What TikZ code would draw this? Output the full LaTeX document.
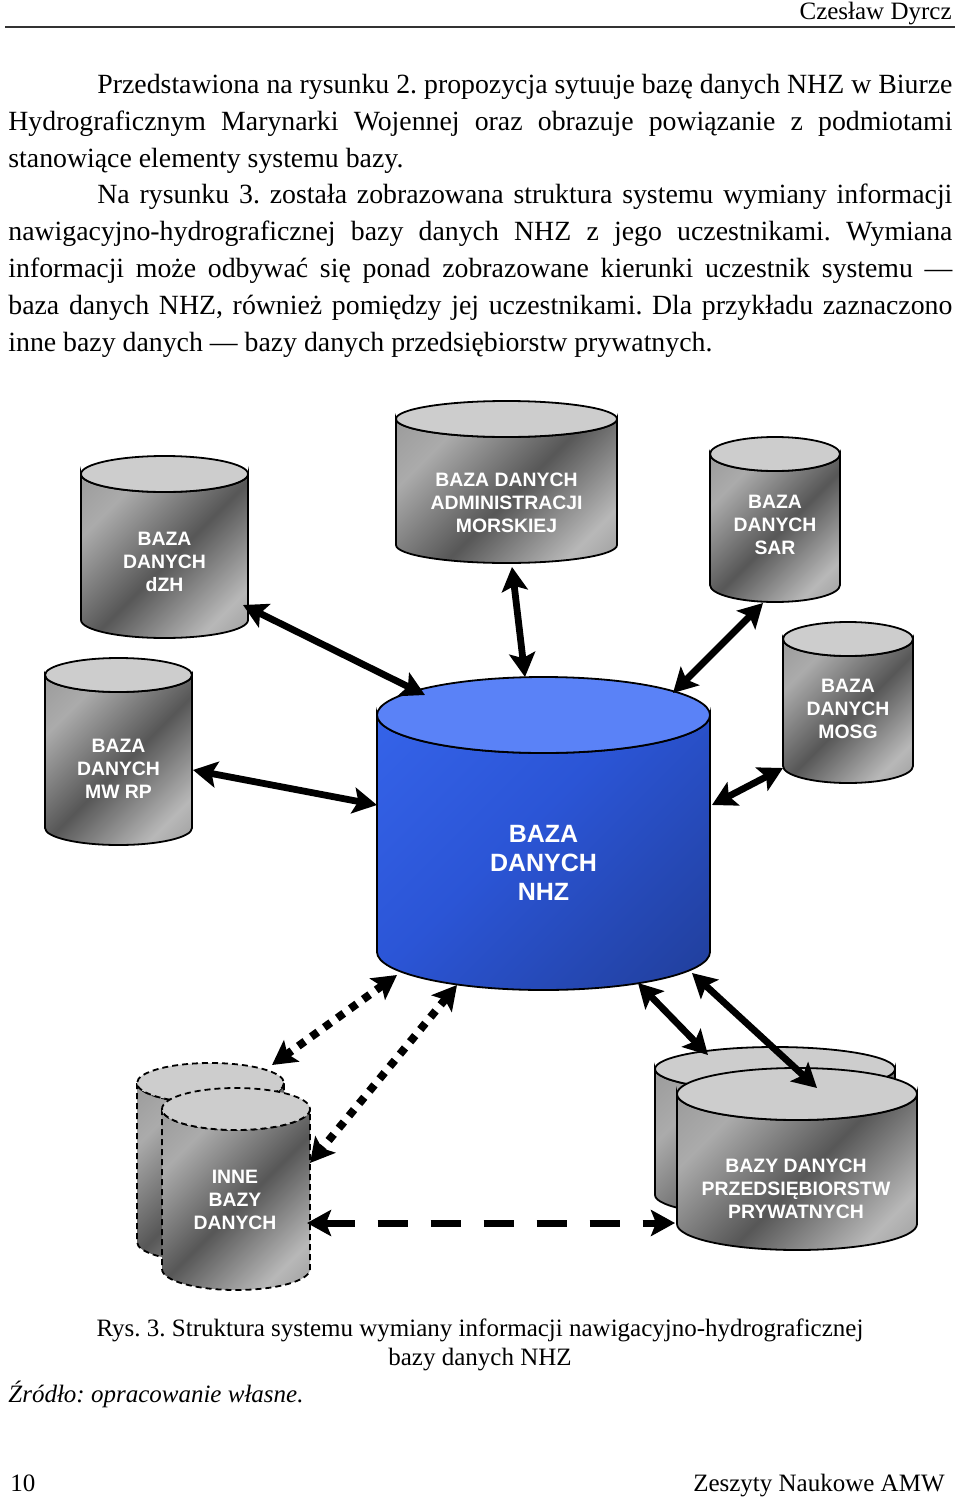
\documentclass[tikz,border=0pt]{standalone}
\usepackage{fontspec}
\setmainfont{Liberation Serif}
\newfontfamily\arialfont{Liberation Sans}
\usetikzlibrary{arrows.meta}
\frenchspacing
\definecolor{m1}{HTML}{8A8A8A}
\definecolor{m2}{HTML}{ABABAB}
\definecolor{m3}{HTML}{575757}
\definecolor{m4}{HTML}{B8B8B8}
\definecolor{m5}{HTML}{7A7A7A}
\definecolor{gtop}{HTML}{CDCDCD}
\definecolor{b1}{HTML}{3A6AF2}
\definecolor{b2}{HTML}{2B55D6}
\definecolor{b3}{HTML}{1D3684}
\definecolor{btop}{HTML}{5A82F7}
\pgfdeclarehorizontalshading{metal}{100bp}{color(0bp)=(m1); color(28bp)=(m2); color(52bp)=(m3); color(75bp)=(m4); color(100bp)=(m5)}
\pgfdeclarehorizontalshading{bluegrad}{100bp}{color(0bp)=(b1); color(45bp)=(b2); color(100bp)=(b3)}
% cylinder: #1 cx, #2 half width, #3 top centre y, #4 bottom centre y, #5 ry, #6 body style, #7 top style
\newcommand\mycyl[7]{%
  \path[#6] (#1-#2,#3) -- (#1-#2,#4) arc[start angle=180,end angle=0,x radius=#2,y radius=#5] -- (#1+#2,#3) arc[start angle=0,end angle=180,x radius=#2,y radius=#5] -- cycle;
  \path[#7] (#1,#3) ellipse [x radius=#2,y radius=#5];}
\begin{document}
\begin{tikzpicture}[x=0.5pt,y=-0.5pt,
  graybody/.style={draw=black,line width=0.9pt,shading=metal,shading angle=-45},
  graytop/.style={draw=black,line width=0.9pt,fill=gtop},
  dgraybody/.style={graybody,dash pattern=on 3pt off 2pt},
  dgraytop/.style={graytop,dash pattern=on 3pt off 2pt},
  bluebody/.style={draw=black,line width=0.9pt,shading=bluegrad,shading angle=-45},
  bluetop/.style={draw=black,line width=0.9pt,fill=btop},
  lab/.style={font=\arialfont\bfseries\fontsize{9.7}{11.6}\selectfont,text=white,align=center,inner sep=0},
  biglab/.style={font=\arialfont\bfseries\fontsize{12.5}{14.5}\selectfont,text=white,align=center,inner sep=0},
  bodytext/.style={font=\fontsize{13.9}{16}\selectfont,anchor=base west,inner sep=0},
  smalltext/.style={font=\fontsize{12.5}{14}\selectfont,inner sep=0},
  tip/.tip={Stealth[length=12pt,width=13pt,inset=2.5pt]},
  biarrow/.style={line width=3.4pt,tip-tip},
  dotarrow/.style={line width=4pt,dash pattern=on 4pt off 4pt,tip-tip},
  dasharrow/.style={line width=3.5pt,dash pattern=on 15pt off 11.5pt,tip-tip}]
\useasboundingbox (0,0) rectangle (960,1498);
\fill[white] (0,0) rectangle (960,1498);

% header
\node[smalltext,anchor=base east] (hdr) at (952,20) {Czesław Dyrcz};
\draw[line width=1pt,black!80] (5,27.5) -- (955,27.5);

% body text
\node[bodytext] (l1) at (97,93.5) {\makebox[427.5pt][s]{Przedstawiona na rysunku 2. propozycja sytuuje bazę danych NHZ w Biurze}};
\node[bodytext] (l2) at (8,130.3) {\makebox[472pt][s]{Hydrograficznym Marynarki Wojennej oraz obrazuje powiązanie z podmiotami}};
\node[bodytext] (l3) at (8,167.1) {stanowiące elementy systemu bazy.};
\node[bodytext] (l4) at (97,203.9) {\makebox[427.5pt][s]{Na rysunku 3. została zobrazowana struktura systemu wymiany informacji}};
\node[bodytext] (l5) at (8,240.7) {\makebox[472pt][s]{nawigacyjno-hydrograficznej bazy danych NHZ z jego uczestnikami. Wymiana}};
\node[bodytext] (l6) at (8,277.5) {\makebox[472pt][s]{informacji może odbywać się ponad zobrazowane kierunki uczestnik systemu —}};
\node[bodytext] (l7) at (8,314.3) {\makebox[472pt][s]{baza danych NHZ, również pomiędzy jej uczestnikami. Dla przykładu zaznaczono}};
\node[bodytext] (l8) at (8,351.1) {inne bazy danych — bazy danych przedsiębiorstw prywatnych.};

% cylinders
\mycyl{164.5}{83.5}{474}{620}{18}{graybody}{graytop}
\node[lab] (dzh) at (164.5,562) {BAZA\\DANYCH\\dZH};
\mycyl{506.5}{110.5}{419}{545}{18}{graybody}{graytop}
\node[lab] (adm) at (506.5,503) {BAZA DANYCH\\ADMINISTRACJI\\MORSKIEJ};
\mycyl{775}{65}{454}{585}{17}{graybody}{graytop}
\node[lab] (sar) at (775,525) {BAZA\\DANYCH\\SAR};
\mycyl{848}{65}{639}{766}{17}{graybody}{graytop}
\node[lab] (mosg) at (848,709) {BAZA\\DANYCH\\MOSG};
\mycyl{118.5}{73.5}{675}{828}{17}{graybody}{graytop}
\node[lab] (mwrp) at (118.5,769) {BAZA\\DANYCH\\MW RP};
\mycyl{543.5}{166.5}{715}{952}{38}{bluebody}{bluetop}
\node[biglab] (nhz) at (543.5,863) {BAZA\\DANYCH\\NHZ};
\mycyl{210.5}{73.5}{1083}{1242}{20}{dgraybody}{dgraytop}
\mycyl{236}{74}{1109}{1269}{21}{dgraybody}{dgraytop}
\node[lab] (inne) at (235,1200) {INNE\\BAZY\\DANYCH};
\mycyl{775}{120}{1069}{1195}{22}{graybody}{graytop}
\mycyl{797}{120}{1094}{1224}{26}{graybody}{graytop}
\node[lab] (prz) at (796,1189) {BAZY DANYCH\\PRZEDSIĘBIORSTW\\PRYWATNYCH};

% connector end points
\coordinate (dzhA) at (243,605);   \coordinate (nhzA) at (425,695);
\coordinate (admA) at (512,567);   \coordinate (nhzB) at (525,677);
\coordinate (sarA) at (763,603);   \coordinate (nhzC) at (673,693);
\coordinate (mosgA) at (783,768);  \coordinate (nhzD) at (712,805);
\coordinate (mwrpA) at (193,770);  \coordinate (nhzE) at (377,805);
\coordinate (nhzF) at (397,975);   \coordinate (inneA) at (272,1065);
\coordinate (nhzG) at (457,985);   \coordinate (inneB) at (310,1163);
\coordinate (nhzH) at (638,983);   \coordinate (przA) at (708,1055);
\coordinate (nhzI) at (692,973);   \coordinate (przB) at (817,1088);
\coordinate (inneC) at (307,1223); \coordinate (przC) at (675,1223);

\draw[biarrow] (dzhA) -- (nhzA);
\draw[biarrow] (admA) -- (nhzB);
\draw[biarrow] (sarA) -- (nhzC);
\draw[biarrow] (mosgA) -- (nhzD);
\draw[biarrow] (mwrpA) -- (nhzE);
\draw[dotarrow] (nhzF) -- (inneA);
\draw[dotarrow] (nhzG) -- (inneB);
\draw[biarrow] (nhzH) -- (przA);
\draw[biarrow] (nhzI) -- (przB);
\draw[dasharrow] (inneC) -- (przC);

% caption and footer
\node[smalltext,anchor=base] (cap1) at (480,1336) {Rys. 3. Struktura systemu wymiany informacji nawigacyjno-hydrograficznej};
\node[smalltext,anchor=base] (cap2) at (480,1365) {bazy danych NHZ};
\node[smalltext,anchor=base west,font=\itshape\fontsize{12.5}{14}\selectfont] (src) at (8,1402) {Źródło: opracowanie własne.};
\node[smalltext,anchor=base west] (pg) at (10,1491) {10};
\node[smalltext,anchor=base east] (ftr) at (945,1491) {Zeszyty Naukowe AMW};
\end{tikzpicture}
\end{document}
